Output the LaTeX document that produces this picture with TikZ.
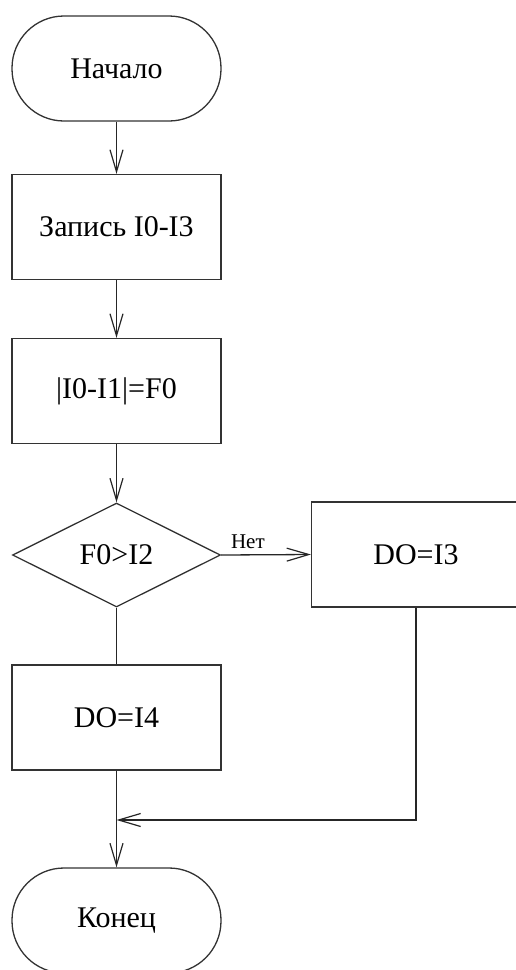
\documentclass[tikz,border=0pt]{standalone}
\usepackage{fontspec}
\setmainfont{Liberation Serif}
\usetikzlibrary{shapes.geometric,arrows.meta}
\begin{document}
\begin{tikzpicture}[x=1pt,y=-1pt,
  every node/.style={font=\fontsize{30}{35}\selectfont, text=black},
  base/.style={draw=black!80, line width=1.3pt, inner sep=0pt},
  term/.style={base, rectangle, rounded corners=52pt, minimum width=209pt, minimum height=105pt},
  proc/.style={base, rectangle, minimum width=209pt, minimum height=105pt},
  decision/.style={base, diamond, aspect=2, minimum width=208pt, minimum height=104pt},
  conn/.style={draw=black!85, line width=1.3pt},
  arr/.style={conn, -{Straight Barb[length=22pt,width=13pt,line width=1.2pt]}},
  lbl/.style={font=\fontsize{21}{24}\selectfont}
]
\useasboundingbox (0,0) rectangle (515,970);
\node[term] (start) at (116.5,68.5) {Начало};
\node[proc] (rec) at (116.5,227) {Запись I0-I3};
\node[proc] (calc) at (116.5,391) {|I0-I1|=F0};
\node[decision] (dec) at (116.5,555) {F0>I2};
\node[proc] (d3) at (416,554.5) {DO=I3};
\node[proc] (d4) at (116.5,717.5) {DO=I4};
\node[term] (stop) at (116.5,920.5) {Конец};
\coordinate (m) at (116.5,820);
\draw[arr] (start.south) -- (rec.north);
\draw[arr] (rec.south) -- (calc.north);
\draw[arr] (calc.south) -- (dec.north);
\draw[arr] (dec.east) -- node[lbl, pos=0.2, anchor=south west, xshift=-12pt, yshift=2pt] {Нет} (d3.west);
\draw[conn] (dec.south) -- (d4.north);
\draw[conn] (d4.south) -- (m);
\draw[arr] (d3.south) |- (m);
\draw[arr] (m) -- (stop.north);
\end{tikzpicture}
\end{document}
